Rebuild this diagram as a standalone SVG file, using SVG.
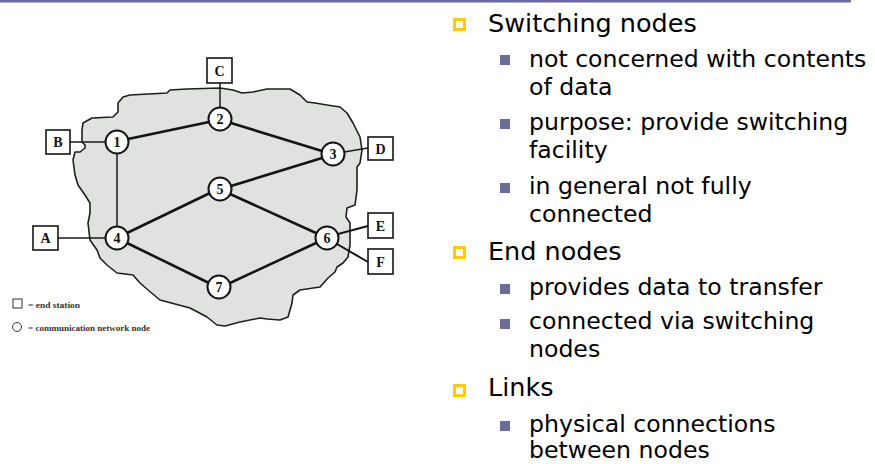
<svg xmlns="http://www.w3.org/2000/svg" width="875" height="464" viewBox="0 0 875 464">
  <style>
    .cloud { fill: #dfe2df; stroke: #1e1e1e; stroke-width: 1.6; stroke-linejoin: round; }
    .link { stroke: #141414; stroke-width: 2.6; stroke-linecap: round; fill: none; }
    .tap { stroke: #1a1a1a; stroke-width: 1.5; fill: none; }
    .sw circle { fill: #ffffff; stroke: #141414; stroke-width: 2; }
    .st rect { fill: #ffffff; stroke: #141414; stroke-width: 1.6; }
    .lbl { font-family: "Liberation Serif", "Times New Roman", serif; font-weight: bold; font-size: 14px; fill: #111; text-anchor: middle; }
    .leg { font-family: "Liberation Serif", "Times New Roman", serif; font-weight: bold; font-size: 9px; fill: #333; }
    .l1 { font-family: "DejaVu Sans", Verdana, sans-serif; font-size: 25.5px; fill: #000; }
    .l2 { font-family: "DejaVu Sans", Verdana, sans-serif; font-size: 23.6px; fill: #000; }
    .b1 { fill: #ffffff; stroke: #ffcc00; stroke-width: 3; }
    .b2 { fill: #6b6b9c; }
  </style>

  <!-- header rule -->
  <rect x="0" y="0" width="851" height="2.5" fill="#6a6a9c"/>

  <!-- network cloud -->
  <path id="cloud" class="cloud" d="M83,123 L92,118 L113,117 L118,112 L118,103 L123,97 L130,95 L167,93 L170,90 L187,89 L220,88 L233,90 L242,93 L253,92 L267,89 L290,89 L300,95 L307,102 L315,103 L327,105 L340,107 L347,113 L353,123 L360,137 L362,150 L360,163 L357,167 L357,190 L355,205 L347,208 L346,217 L350,223 L350,245 L348,257 L343,263 L337,267 L335,272 L328,278 L320,287 L300,290 L293,295 L292,303 L288,317 L280,320 L267,319 L260,318 L240,322 L225,326 L217,325 L207,317 L190,308 L160,300 L148,290 L140,283 L133,275 L117,273 L107,265 L100,258 L97,250 L90,240 L88,223 L90,213 L90,203 L85,195 L78,185 L75,175 L73,160 L75,152 L80,152 L85,148 L85,145 L82,142 L82,130 Z"/>

  <!-- connectors -->
  <g id="connectors">
    <line class="tap" x1="70" y1="142" x2="106" y2="142"/>
    <line class="tap" x1="58" y1="238" x2="106" y2="238"/>
    <line class="tap" x1="220" y1="83" x2="220" y2="108"/>
    <line class="tap" x1="117" y1="154" x2="117" y2="227"/>
    <line class="tap" x1="344" y1="152" x2="368" y2="148"/>
    <line class="link" style="stroke-width:2" x1="338" y1="234" x2="368" y2="226"/>
    <line class="link" style="stroke-width:2" x1="337" y1="244" x2="368" y2="262"/>
    <line class="link" x1="128" y1="139" x2="209" y2="122"/>
    <line class="link" x1="231" y1="123" x2="322" y2="151"/>
    <line class="link" x1="322" y1="158" x2="231" y2="186"/>
    <line class="link" x1="127" y1="233" x2="210" y2="193"/>
    <line class="link" x1="127" y1="243" x2="209" y2="283"/>
    <line class="link" x1="230" y1="194" x2="316" y2="233"/>
    <line class="link" x1="230" y1="283" x2="316" y2="243"/>
  </g>

  <!-- switching nodes -->
  <g id="n1" class="sw"><circle cx="117" cy="142" r="11.5"/><text class="lbl" x="117" y="147">1</text></g>
  <g id="n2" class="sw"><circle cx="220" cy="119" r="11.5"/><text class="lbl" x="220" y="124">2</text></g>
  <g id="n3" class="sw"><circle cx="333" cy="154" r="11.5"/><text class="lbl" x="333" y="159">3</text></g>
  <g id="n4" class="sw"><circle cx="117" cy="238" r="11.5"/><text class="lbl" x="117" y="243">4</text></g>
  <g id="n5" class="sw"><circle cx="220" cy="189" r="11.5"/><text class="lbl" x="220" y="194">5</text></g>
  <g id="n6" class="sw"><circle cx="327" cy="238" r="11.5"/><text class="lbl" x="327" y="243">6</text></g>
  <g id="n7" class="sw"><circle cx="219" cy="287" r="11.5"/><text class="lbl" x="219" y="292">7</text></g>

  <!-- end stations -->
  <g id="sA" class="st"><rect x="33" y="226" width="25" height="24"/><text class="lbl" x="45.5" y="243">A</text></g>
  <g id="sB" class="st"><rect x="46" y="130" width="24" height="24"/><text class="lbl" x="58" y="147">B</text></g>
  <g id="sC" class="st"><rect x="207" y="58" width="25" height="25"/><text class="lbl" x="219.5" y="75.5">C</text></g>
  <g id="sD" class="st"><rect x="368" y="137" width="25" height="23"/><text class="lbl" x="380.5" y="153.5">D</text></g>
  <g id="sE" class="st"><rect x="368" y="213" width="25" height="25"/><text class="lbl" x="380.5" y="230.5">E</text></g>
  <g id="sF" class="st"><rect x="368" y="249" width="25" height="25"/><text class="lbl" x="380.5" y="266.5">F</text></g>

  <!-- legend -->
  <g id="legend">
    <rect x="13" y="299" width="9" height="9" fill="#fff" stroke="#333" stroke-width="1"/>
    <text class="leg" x="28" y="308" textLength="52" lengthAdjust="spacingAndGlyphs">= end station</text>
    <circle cx="17" cy="327" r="4.5" fill="#fff" stroke="#333" stroke-width="1"/>
    <text class="leg" x="28" y="331" textLength="122" lengthAdjust="spacingAndGlyphs">= communication network node</text>
  </g>

  <!-- bullet list -->
  <g id="bullets">
    <rect class="b1" x="454.5" y="19.5" width="10" height="10"/>
    <text class="l1" x="488" y="32">Switching nodes</text>
    <rect class="b2" x="500" y="55" width="10" height="10"/>
    <text class="l2" x="529" y="67">not concerned with contents</text>
    <text class="l2" x="529" y="95">of data</text>
    <rect class="b2" x="500" y="119" width="10" height="10"/>
    <text class="l2" x="529" y="130">purpose: provide switching</text>
    <text class="l2" x="529" y="158">facility</text>
    <rect class="b2" x="500" y="183" width="10" height="10"/>
    <text class="l2" x="529" y="194">in general not fully</text>
    <text class="l2" x="529" y="222">connected</text>
    <rect class="b1" x="454.5" y="247.5" width="10" height="10"/>
    <text class="l1" x="488" y="260">End nodes</text>
    <rect class="b2" x="500" y="284" width="10" height="10"/>
    <text class="l2" x="529" y="295">provides data to transfer</text>
    <rect class="b2" x="500" y="319" width="10" height="10"/>
    <text class="l2" x="529" y="329">connected via switching</text>
    <text class="l2" x="529" y="357">nodes</text>
    <rect class="b1" x="454.5" y="385.5" width="10" height="10"/>
    <text class="l1" x="488" y="396">Links</text>
    <rect class="b2" x="500" y="421" width="10" height="10"/>
    <text class="l2" x="529" y="432">physical connections</text>
    <text class="l2" x="529" y="458">between nodes</text>
  </g>
</svg>
